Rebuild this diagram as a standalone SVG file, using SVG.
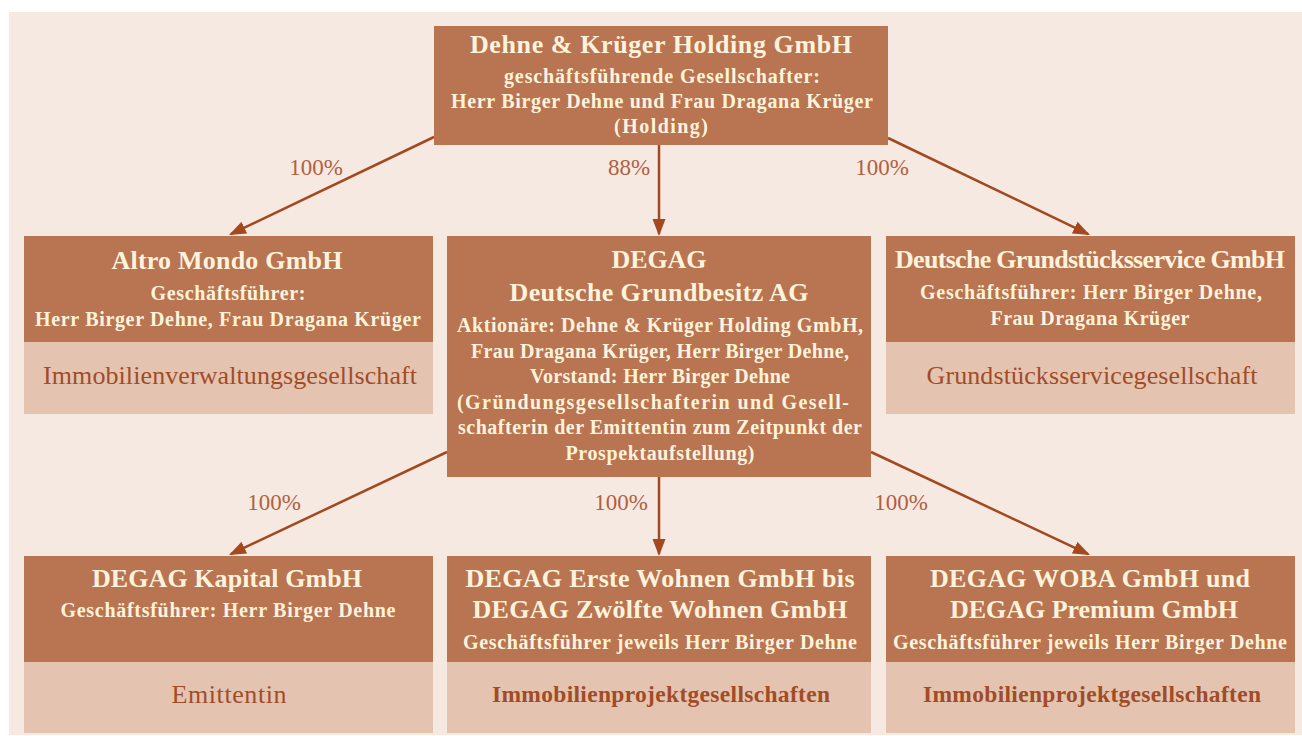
<svg xmlns="http://www.w3.org/2000/svg" width="1302" height="736" viewBox="0 0 1302 736">
<style>
.dark{fill:#b97451}
.light{fill:#e4c4b1}
.t{font-family:"Liberation Serif","Times New Roman",serif;fill:#fdf3dc;text-anchor:middle;font-weight:bold}
.ti{font-size:26px}
.st{font-size:20px}
.lt{font-family:"Liberation Serif","Times New Roman",serif;fill:#a24c27;text-anchor:middle;font-size:26px}
.lb{font-weight:bold;font-size:23.5px}
.pct{font-family:"Liberation Serif","Times New Roman",serif;fill:#b2603f;text-anchor:middle;font-size:23px}
.con{stroke:#a3491f;stroke-width:2.5;fill:none;marker-end:url(#ah)}
</style>
<defs>
<marker id="ah" markerUnits="userSpaceOnUse" markerWidth="18" markerHeight="14" refX="15" refY="6.5" orient="auto" viewBox="0 0 18 14">
<path d="M0,0 L17,6.5 L0,13 z" fill="#a3491f"/>
</marker>
</defs>
<rect x="9" y="12" width="1293" height="723" fill="#f6e9e2"/>

<g id="connectors">
<line class="con" x1="434" y1="137" x2="230.8" y2="234.1"/>
<line class="con" x1="659" y1="145" x2="659" y2="234"/>
<line class="con" x1="888" y1="138" x2="1088.2" y2="234.1"/>
<line class="con" x1="447" y1="452" x2="230.8" y2="554.1"/>
<line class="con" x1="659" y1="477" x2="659" y2="554"/>
<line class="con" x1="871" y1="452" x2="1088.2" y2="554.1"/>
<text class="pct" x="316" y="175">100%</text>
<text class="pct" x="629" y="175">88%</text>
<text class="pct" x="882" y="175">100%</text>
<text class="pct" x="274" y="510">100%</text>
<text class="pct" x="621" y="510">100%</text>
<text class="pct" x="901" y="510">100%</text>
</g>

<g id="holding">
<rect class="dark" x="434" y="26" width="454" height="119"/>
<text class="t ti" x="661" y="53" textLength="382" lengthAdjust="spacing">Dehne &amp; Krüger Holding GmbH</text>
<text class="t st" x="662" y="83" textLength="316" lengthAdjust="spacing">geschäftsführende Gesellschafter:</text>
<text class="t st" x="662" y="108" textLength="422" lengthAdjust="spacing">Herr Birger Dehne und Frau Dragana Krüger</text>
<text class="t st" x="661" y="133" textLength="94" lengthAdjust="spacing">(Holding)</text>
</g>

<g id="altro">
<rect class="dark" x="24" y="236" width="409" height="106"/>
<rect class="light" x="24" y="342" width="409" height="72"/>
<text class="t ti" x="227" y="269" textLength="231" lengthAdjust="spacing">Altro Mondo GmbH</text>
<text class="t st" x="228" y="300" textLength="155" lengthAdjust="spacing">Geschäftsführer:</text>
<text class="t st" x="228" y="326" textLength="386" lengthAdjust="spacing">Herr Birger Dehne, Frau Dragana Krüger</text>
<text class="lt" x="230" y="384" textLength="374" lengthAdjust="spacing">Immobilienverwaltungsgesellschaft</text>
</g>

<g id="degag">
<rect class="dark" x="447" y="236" width="424" height="241"/>
<text class="t ti" x="659" y="268" textLength="95" lengthAdjust="spacing">DEGAG</text>
<text class="t ti" x="659" y="301" textLength="299" lengthAdjust="spacing">Deutsche Grundbesitz AG</text>
<text class="t st" x="660" y="332" textLength="406" lengthAdjust="spacing">Aktionäre: Dehne &amp; Krüger Holding GmbH,</text>
<text class="t st" x="660" y="358" textLength="378" lengthAdjust="spacing">Frau Dragana Krüger, Herr Birger Dehne,</text>
<text class="t st" x="660" y="383" textLength="260" lengthAdjust="spacing">Vorstand: Herr Birger Dehne</text>
<text class="t st" x="653" y="409" textLength="392" lengthAdjust="spacing">(Gründungsgesellschafterin und Gesell-</text>
<text class="t st" x="660" y="434" textLength="404" lengthAdjust="spacing">schafterin der Emittentin zum Zeitpunkt der</text>
<text class="t st" x="660" y="460" textLength="189" lengthAdjust="spacing">Prospektaufstellung)</text>
</g>

<g id="grundstuecksservice">
<rect class="dark" x="886" y="236" width="409" height="106"/>
<rect class="light" x="886" y="342" width="409" height="72"/>
<text class="t ti" x="1090" y="268" textLength="390" lengthAdjust="spacing">Deutsche Grundstücksservice GmbH</text>
<text class="t st" x="1091" y="299" textLength="342" lengthAdjust="spacing">Geschäftsführer: Herr Birger Dehne,</text>
<text class="t st" x="1090" y="325" textLength="199" lengthAdjust="spacing">Frau Dragana Krüger</text>
<text class="lt" x="1092" y="384" textLength="331" lengthAdjust="spacing">Grundstücksservicegesellschaft</text>
</g>

<g id="kapital">
<rect class="dark" x="24" y="556" width="409" height="106"/>
<rect class="light" x="24" y="662" width="409" height="71"/>
<text class="t ti" x="227" y="587" textLength="270" lengthAdjust="spacing">DEGAG Kapital GmbH</text>
<text class="t st" x="228" y="617" textLength="335" lengthAdjust="spacing">Geschäftsführer: Herr Birger Dehne</text>
<text class="lt" x="229" y="703" textLength="115" lengthAdjust="spacing">Emittentin</text>
</g>

<g id="wohnen">
<rect class="dark" x="447" y="556" width="424" height="106"/>
<rect class="light" x="447" y="662" width="424" height="71"/>
<text class="t ti" x="660" y="587" textLength="389" lengthAdjust="spacing">DEGAG Erste Wohnen GmbH bis</text>
<text class="t ti" x="660" y="618" textLength="375" lengthAdjust="spacing">DEGAG Zwölfte Wohnen GmbH</text>
<text class="t st" x="660" y="649" textLength="394" lengthAdjust="spacing">Geschäftsführer jeweils Herr Birger Dehne</text>
<text class="lt lb" x="661" y="702" textLength="338" lengthAdjust="spacing">Immobilienprojektgesellschaften</text>
</g>

<g id="woba">
<rect class="dark" x="886" y="556" width="409" height="106"/>
<rect class="light" x="886" y="662" width="409" height="71"/>
<text class="t ti" x="1090" y="587" textLength="320" lengthAdjust="spacing">DEGAG WOBA GmbH und</text>
<text class="t ti" x="1094" y="618" textLength="288" lengthAdjust="spacing">DEGAG Premium GmbH</text>
<text class="t st" x="1090" y="649" textLength="394" lengthAdjust="spacing">Geschäftsführer jeweils Herr Birger Dehne</text>
<text class="lt lb" x="1092" y="702" textLength="338" lengthAdjust="spacing">Immobilienprojektgesellschaften</text>
</g>
</svg>
